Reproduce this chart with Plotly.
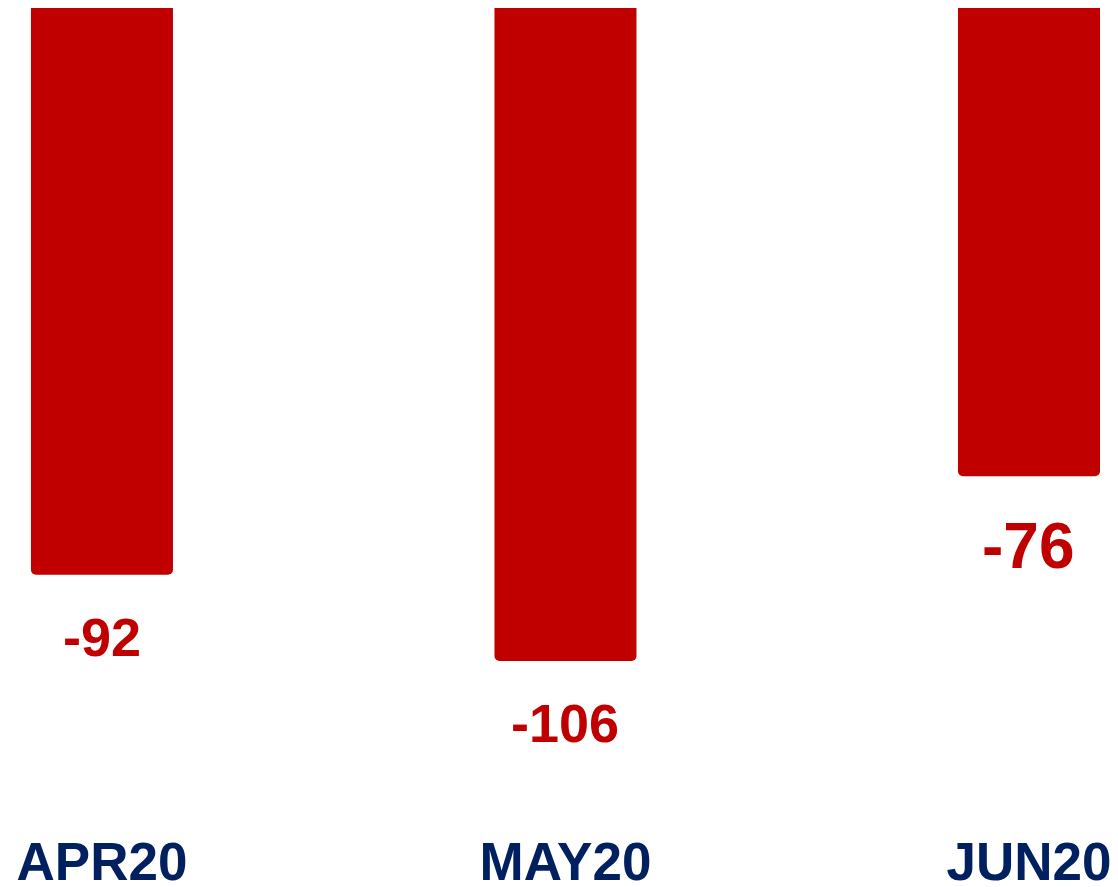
import plotly.graph_objects as go

categories = ["APR20", "MAY20", "JUN20"]
values = [-92, -106, -76]
labels = ["-92", "-106", "-76"]
label_sizes = [54, 54, 64]
label_shift = [-62, -62, -70]

RED = "#C00000"
NAVY = "#002060"

fig = go.Figure()
fig.add_trace(go.Bar(
    x=categories,
    y=values,
    width=0.3064,
    marker=dict(color=RED, cornerradius=5, line=dict(width=0)),
    hoverinfo="skip",
))

for c, v, t, s, sh in zip(categories, values, labels, label_sizes, label_shift):
    fig.add_annotation(
        x=c, y=v, text=t, showarrow=False,
        xanchor="center", yanchor="middle", yshift=sh,
        font=dict(family="Liberation Sans, Arial", size=s, color=RED, weight="bold"),
    )

fig.update_layout(
    width=1118, height=887,
    margin=dict(l=0, r=0, t=0, b=69),
    paper_bgcolor="white", plot_bgcolor="white",
    showlegend=False,
    xaxis=dict(
        type="category",
        range=[-0.2027, 2.2093],
        showgrid=False, zeroline=False, showline=False, ticks="",
        tickfont=dict(family="Liberation Sans, Arial", size=53, color=NAVY, weight="bold"),
    ),
    yaxis=dict(
        range=[-132.8, 0],
        showgrid=False, zeroline=False, showline=False, showticklabels=False, ticks="",
    ),
)

fig.write_html("out.html")
